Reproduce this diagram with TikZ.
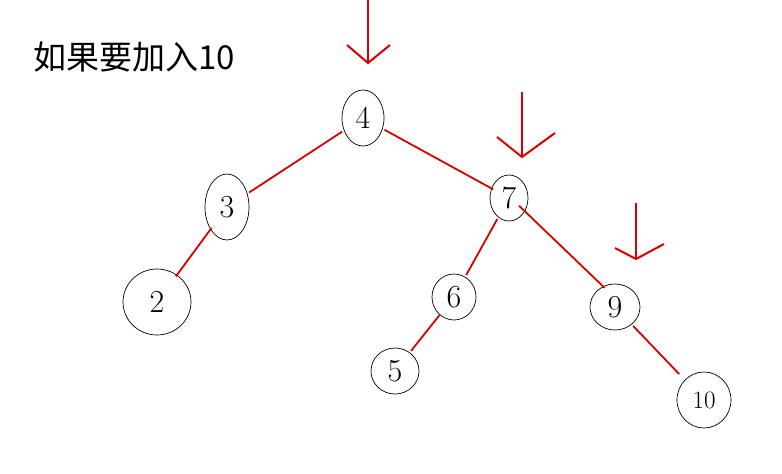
\documentclass[tikz,border=0pt]{standalone}
\usepackage{fontspec}
\newfontfamily\cjk{Noto Sans CJK SC}
\usetikzlibrary{shapes.geometric}
\begin{document}
\begin{tikzpicture}[x=1pt,y=-1pt,
  nd/.style={ellipse,draw,line width=0.7pt,inner sep=0pt,font=\fontsize{32}{32}\selectfont},
  ed/.style={red!85!black,line width=1.8pt},
  ar/.style={red!85!black,line width=2pt}]
\useasboundingbox (0,0) rectangle (782,474);
\node[anchor=west,font=\cjk\fontsize{33}{33}\selectfont,inner sep=0pt] (t) at (33,57) {如果要加入10};
\node[nd,minimum width=42pt,minimum height=56pt] (n4) at (363,118) {4};
\node[nd,minimum width=44pt,minimum height=66pt] (n3) at (227,207) {3};
\node[nd,minimum width=68pt,minimum height=66pt] (n2) at (157,302) {2};
\node[nd,minimum width=38pt,minimum height=46pt] (n7) at (509,198) {7};
\node[nd,minimum width=44pt,minimum height=46pt] (n6) at (454,297) {6};
\node[nd,minimum width=50pt,minimum height=46pt] (n9) at (615,307) {9};
\node[nd,minimum width=48pt,minimum height=46pt] (n5) at (395,371) {5};
\node[nd,minimum width=54pt,minimum height=56pt,font=\fontsize{25}{25}\selectfont] (n10) at (704,400) {10};
\draw[ed,shorten <=2pt,shorten >=2pt] (n4) -- (n3);
\draw[ed,shorten <=2pt,shorten >=-2pt] (n4) -- (n7);
\draw[ed,shorten <=-2pt,shorten >=-2pt] (n3) -- (n2);
\draw[ed,shorten <=2pt,shorten >=2pt] (n7) -- (n6);
\draw[ed,shorten <=-8pt,shorten >=-2pt] (n7.-40) -- (n9.120);
\draw[ed,shorten <=0pt,shorten >=2pt] (n6) -- (n5);
\draw[ed,shorten <=2pt,shorten >=8pt] (n9) -- (n10);
\coordinate (a1) at (368,0); \coordinate (b1) at (368,63);
\draw[ar] (a1) -- (b1); \draw[ar] (347,45) -- (b1) -- (390,45);
\coordinate (a2) at (522,92); \coordinate (b2) at (522,157);
\draw[ar] (a2) -- (b2); \draw[ar] (497,137) -- (b2) -- (555,133);
\coordinate (a3) at (636,203); \coordinate (b3) at (636,259);
\draw[ar] (a3) -- (b3); \draw[ar] (615,248) -- (b3) -- (664,244);
\end{tikzpicture}
\end{document}
